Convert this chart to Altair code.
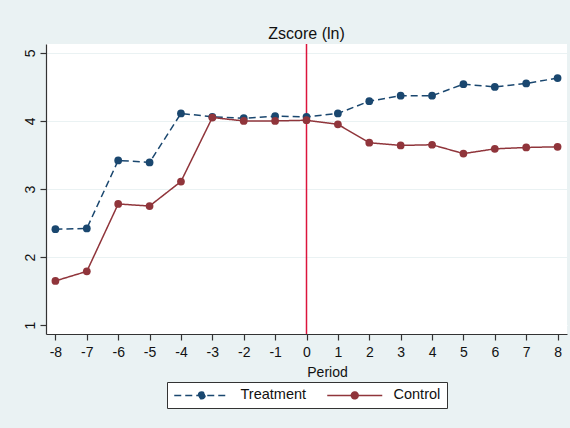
import altair as alt
import pandas as pd

# Event-study means of ln(Zscore) by period relative to treatment
periods = list(range(-8, 9))
treatment = [2.41, 2.42, 3.42, 3.39, 4.11, 4.06, 4.04, 4.07, 4.06,
             4.11, 4.29, 4.37, 4.37, 4.54, 4.50, 4.55, 4.63]
control = [1.65, 1.79, 2.78, 2.75, 3.11, 4.05, 4.00, 4.00, 4.01,
           3.95, 3.68, 3.64, 3.65, 3.52, 3.59, 3.61, 3.62]
groups = ["Treatment", "Control"]
group_colors = ["#1a476f", "#90353b"]
group_dashes = [[7, 4], [1, 0]]
y_ticks = [1, 2, 3, 4, 5]

df = pd.DataFrame(
    {
        "period": periods * 2,
        "zscore": treatment + control,
        "group": ["Treatment"] * len(periods) + ["Control"] * len(periods),
    }
)
event = pd.DataFrame({"period": [0]})

FONT = "Liberation Sans"
BG = "#EAF2F3"

x_enc = alt.X(
    "period:Q",
    scale=alt.Scale(domain=[-8.3, 8.3], nice=False, zero=False),
    axis=alt.Axis(
        values=periods,
        labelExpr="'' + datum.value",
        labelOverlap=False,
        title="Period",
        grid=False,
        tickSize=6,
        labelPadding=5,
        titlePadding=6,
        titleX=281,
        titleAlign="center",
    ),
)
y_enc = alt.Y(
    "zscore:Q",
    scale=alt.Scale(domain=[0.87, 5.13], nice=False, zero=False),
    axis=alt.Axis(
        values=y_ticks,
        labelExpr="'' + datum.value",
        title=None,
        labelAngle=270,
        labelAlign="center",
        labelBaseline="alphabetic",
        tickSize=6,
        labelPadding=6,
        grid=True,
        gridColor={
            "condition": {"test": "datum.value == 1", "value": "white"},
            "value": BG,
        },
    ),
)

# legend key: a 55px line with a dot in its middle (path units are 6px)
legend = alt.Legend(
    title=None,
    orient="none",
    legendX=121,
    legendY=338,
    direction="horizontal",
    symbolType=(
        "M-1,0H8.1667"
        "M4.15,0A0.567,0.567,0,1,1,3.016,0A0.567,0.567,0,1,1,4.15,0Z"
    ),
    symbolSize=144,
    symbolStrokeWidth=1.5,
    symbolOpacity=1,
    labelOffset=53,
    columnPadding=17,
    padding=6,
    fillColor="white",
    strokeColor="#333333",
    labelFontSize=14.5,
    labelFont=FONT,
    labelColor="#111111",
)

stroke_enc = alt.Stroke(
    "group:N", scale=alt.Scale(domain=groups, range=group_colors), legend=legend
)
dash_enc = alt.StrokeDash(
    "group:N", scale=alt.Scale(domain=groups, range=group_dashes), legend=legend
)
fill_enc = alt.Fill(
    "group:N", scale=alt.Scale(domain=groups, range=group_colors), legend=legend
)

# treatment onset marker at period 0
rule = (
    alt.Chart(event)
    .mark_rule(color="#dc143c", strokeWidth=1.5)
    .encode(x=x_enc)
)


def series(name):
    sub = alt.Chart(df).transform_filter(alt.datum.group == name)
    line = sub.mark_line(strokeWidth=1.5).encode(
        x=x_enc, y=y_enc, stroke=stroke_enc, strokeDash=dash_enc
    )
    pts = sub.mark_circle(size=60, opacity=1).encode(
        x=x_enc, y=y_enc, fill=fill_enc
    )
    return [line, pts]


chart = (
    alt.layer(rule, *series("Treatment"), *series("Control"))
    .properties(
        width=521,
        height=290,
        title=alt.TitleParams(
            "Zscore (ln)",
            anchor="middle",
            font=FONT,
            fontSize=16,
            fontWeight="normal",
            color="#111111",
            baseline="alphabetic",
            offset=4,
            dy=16,
        ),
        autosize=alt.AutoSizeParams(type="none"),
        padding={"left": 46, "top": 44, "right": 3, "bottom": 94},
        background=BG,
    )
    .configure_view(fill="white", stroke=None)
    .configure_axis(
        labelFont=FONT,
        titleFont=FONT,
        labelFontSize=14,
        titleFontSize=14,
        titleFontWeight="normal",
        labelColor="#111111",
        titleColor="#111111",
        domainColor="#333333",
        tickColor="#333333",
        domainWidth=1.2,
        tickWidth=1.2,
    )
)

chart.save("out.html", embed_options={"renderer": "svg", "actions": False})
